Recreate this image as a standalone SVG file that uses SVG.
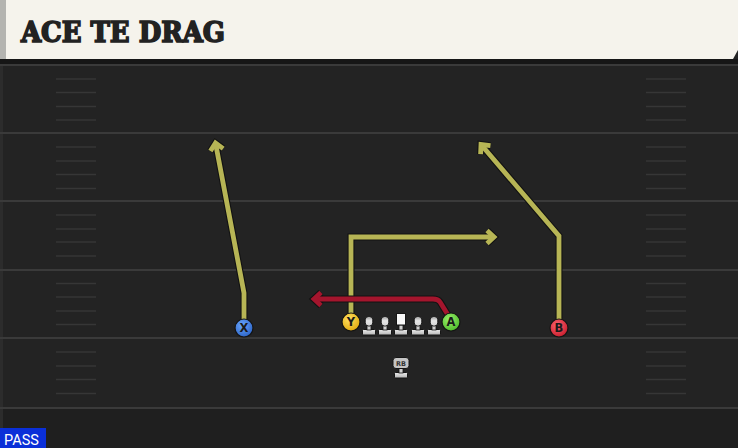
<svg xmlns="http://www.w3.org/2000/svg" width="738" height="448" viewBox="0 0 738 448">
<defs>
<style>
.yard{stroke:#3a3a3a;stroke-width:2}
.hash{stroke:#363636;stroke-width:1.6}
.ol{fill:none;stroke:#121212;stroke-width:7;stroke-linejoin:miter}
.ry{fill:none;stroke:#b7b555;stroke-width:4.8;stroke-linejoin:miter}
.rr{fill:none;stroke:#a4152d;stroke-width:4.8;stroke-linejoin:round}
.lbl{font-family:"DejaVu Sans","Liberation Sans",sans-serif;font-weight:bold;font-size:11.5px;fill:#1a1a1a;text-anchor:middle}
</style>
<marker id="aO" markerUnits="userSpaceOnUse" viewBox="-12 -12 24 24" markerWidth="24" markerHeight="24" refX="0" refY="0" orient="auto" overflow="visible">
<path d="M-7,-6.5 L0,0 L-7,6.5" fill="none" stroke="#121212" stroke-width="7"/>
</marker>
<marker id="aY" markerUnits="userSpaceOnUse" viewBox="-12 -12 24 24" markerWidth="24" markerHeight="24" refX="0" refY="0" orient="auto" overflow="visible">
<path d="M-7,-6.5 L0,0 L-7,6.5" fill="none" stroke="#b7b555" stroke-width="4.8"/>
</marker>
<marker id="aR" markerUnits="userSpaceOnUse" viewBox="-12 -12 24 24" markerWidth="24" markerHeight="24" refX="0" refY="0" orient="auto" overflow="visible">
<path d="M-7,-6.5 L0,0 L-7,6.5" fill="none" stroke="#a4152d" stroke-width="4.8"/>
</marker>
<radialGradient id="gB" cx="0.4" cy="0.35" r="0.7"><stop offset="0" stop-color="#6aa6ff"/><stop offset="1" stop-color="#2a62c4"/></radialGradient>
<radialGradient id="gY" cx="0.4" cy="0.35" r="0.7"><stop offset="0" stop-color="#ffe060"/><stop offset="1" stop-color="#e0a80c"/></radialGradient>
<radialGradient id="gG" cx="0.4" cy="0.35" r="0.7"><stop offset="0" stop-color="#9af06a"/><stop offset="1" stop-color="#4cb82a"/></radialGradient>
<radialGradient id="gR" cx="0.4" cy="0.35" r="0.7"><stop offset="0" stop-color="#ff6470"/><stop offset="1" stop-color="#c41a2a"/></radialGradient>
<linearGradient id="gF" x1="0" y1="0" x2="0" y2="1"><stop offset="0" stop-color="#9a9a9a"/><stop offset="0.45" stop-color="#e6e6e6"/><stop offset="1" stop-color="#d4d4d4"/></linearGradient>
<linearGradient id="gBase" x1="0" y1="0" x2="0" y2="1"><stop offset="0" stop-color="#ececec"/><stop offset="1" stop-color="#b4b4b4"/></linearGradient>
<g id="lineman">
<rect x="-6.5" y="-5.5" width="13" height="5.5" rx="1" fill="url(#gBase)" stroke="#151515" stroke-width="1"/>
<rect x="-2" y="-10" width="4" height="5" fill="#cfcfcf" stroke="#151515" stroke-width="0.8"/>
<rect x="-3.8" y="-18.5" width="7.6" height="9.5" rx="3.2" fill="url(#gF)" stroke="#151515" stroke-width="1"/>
</g>
<g id="center">
<rect x="-6.5" y="-5.5" width="13" height="5.5" rx="1" fill="url(#gBase)" stroke="#151515" stroke-width="1"/>
<rect x="-2" y="-10" width="4" height="5" fill="#cfcfcf" stroke="#151515" stroke-width="0.8"/>
<rect x="-4.5" y="-21.5" width="9" height="11.5" fill="#f8f8f8" stroke="#151515" stroke-width="1"/>
</g>
</defs>

<!-- field -->
<rect x="0" y="0" width="738" height="448" fill="#232323"/>
<rect x="0" y="408" width="738" height="40" fill="#1f1f1f"/>
<rect x="0" y="60" width="3" height="388" fill="#2c2c2c"/>

<g id="yardlines">
<line class="yard" x1="0" y1="65" x2="738" y2="65"/>
<line class="yard" x1="0" y1="133" x2="738" y2="133"/>
<line class="yard" x1="0" y1="201" x2="738" y2="201"/>
<line class="yard" x1="0" y1="270" x2="738" y2="270"/>
<line class="yard" x1="0" y1="338" x2="738" y2="338"/>
<line class="yard" x1="0" y1="408" x2="738" y2="408"/>
</g>
<g id="hashes">
<path class="hash" d="M56,79H96M56,92.5H96M56,106.5H96M56,120H96M56,147H96M56,161H96M56,174.5H96M56,188.5H96M56,215H96M56,229H96M56,242H96M56,256H96M56,283.5H96M56,297H96M56,311H96M56,324.5H96M56,352H96M56,366H96M56,379.5H96M56,393.5H96"/>
<path class="hash" d="M646,79H686M646,92.5H686M646,106.5H686M646,120H686M646,147H686M646,161H686M646,174.5H686M646,188.5H686M646,215H686M646,229H686M646,242H686M646,256H686M646,283.5H686M646,297H686M646,311H686M646,324.5H686M646,352H686M646,366H686M646,379.5H686M646,393.5H686"/>
</g>

<!-- title bar -->
<g id="title">
<rect x="0" y="59" width="738" height="5" fill="#161616"/>
<polygon points="0,0 738,0 738,50 733,59 0,59" fill="#f5f3ec"/>
<rect x="0" y="0" width="6" height="59" fill="#b4b4b0"/>
<text x="21" y="42" font-family="'DejaVu Serif','Liberation Serif',serif" font-weight="900" font-size="27" fill="#222222" stroke="#222222" stroke-width="1.6" stroke-linejoin="miter" textLength="204" lengthAdjust="spacingAndGlyphs">ACE TE DRAG</text>
</g>

<!-- connectors -->
<g id="connectors">
<path class="ol" d="M244,320 L244,293 L215.5,143" marker-end="url(#aO)"/>
<path class="ry" d="M244,320 L244,293 L215.5,143" marker-end="url(#aY)"/>
<path class="ol" d="M351,314 L351,237 L494,237" marker-end="url(#aO)"/>
<path class="ry" d="M351,314 L351,237 L494,237" marker-end="url(#aY)"/>
<path class="ol" d="M559,320 L559,236 L481,144.5" marker-end="url(#aO)"/>
<path class="ry" d="M559,320 L559,236 L481,144.5" marker-end="url(#aY)"/>
<path class="ol" d="M448,315 L440,302 Q438,299 433,299 L314,299" marker-end="url(#aO)" stroke-linejoin="round"/>
<path class="rr" d="M448,315 L440,302 Q438,299 433,299 L314,299" marker-end="url(#aR)"/>
</g>

<!-- line -->
<g id="lineman-1"><use href="#lineman" x="369" y="335"/></g>
<g id="lineman-2"><use href="#lineman" x="385" y="335"/></g>
<g id="center-c"><use href="#center" x="401" y="335"/></g>
<g id="lineman-4"><use href="#lineman" x="418" y="335"/></g>
<g id="lineman-5"><use href="#lineman" x="434" y="335"/></g>

<g id="rb">
<rect x="394.5" y="372.5" width="13" height="5.5" rx="1" fill="url(#gBase)" stroke="#151515" stroke-width="1"/>
<rect x="399" y="368" width="4" height="5" fill="#cfcfcf" stroke="#151515" stroke-width="0.8"/>
<rect x="393" y="357.5" width="16" height="11" rx="3" fill="#c4c4c4" stroke="#151515" stroke-width="1"/>
<text x="401" y="366" font-family="'DejaVu Sans','Liberation Sans',sans-serif" font-weight="bold" font-size="6.5" fill="#333333" text-anchor="middle">RB</text>
</g>

<g id="player-x">
<circle cx="244" cy="328" r="9" fill="url(#gB)" stroke="#141414" stroke-width="1.2"/>
<text class="lbl" x="244" y="332">X</text>
</g>
<g id="player-y">
<circle cx="351" cy="322" r="9" fill="url(#gY)" stroke="#141414" stroke-width="1.2"/>
<text class="lbl" x="351" y="326">Y</text>
</g>
<g id="player-a">
<circle cx="451" cy="322" r="9" fill="url(#gG)" stroke="#141414" stroke-width="1.2"/>
<text class="lbl" x="451" y="326">A</text>
</g>
<g id="player-b">
<circle cx="559" cy="328" r="9" fill="url(#gR)" stroke="#141414" stroke-width="1.2"/>
<text class="lbl" x="559" y="332">B</text>
</g>

<g id="pass-tag">
<rect x="0" y="428" width="46" height="20" fill="#0a2fd8"/>
<text x="4" y="445" font-family="'Roboto','Liberation Sans',sans-serif" font-size="14.5" fill="#ffffff">PASS</text>
</g>
</svg>
